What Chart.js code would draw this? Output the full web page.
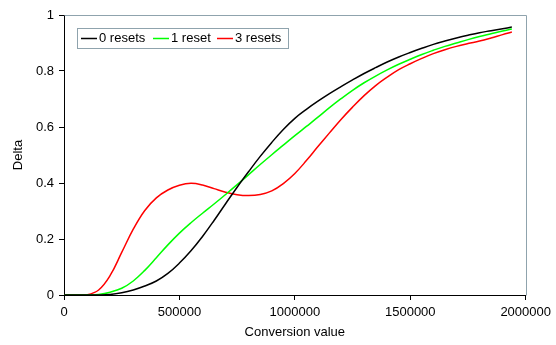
<!DOCTYPE html>
<html>
<head>
<meta charset="utf-8">
<script src="https://cdn.jsdelivr.net/npm/chart.js@4.4.0/dist/chart.umd.min.js"></script>
<style>
  html, body { margin: 0; padding: 0; background: #fff; }
  #wrap { width: 556px; height: 345px; }
</style>
</head>
<body>
<div id="wrap"><canvas id="chart" width="556" height="345"></canvas></div>
<script>
// data
const conversion = [0, 50000, 100000, 150000, 200000, 250000, 300000, 350000, 400000, 450000,
  500000, 550000, 600000, 650000, 700000, 750000, 800000, 850000, 900000, 950000,
  1000000, 1050000, 1100000, 1150000, 1200000, 1250000, 1300000, 1350000, 1400000, 1450000,
  1500000, 1550000, 1600000, 1650000, 1700000, 1750000, 1800000, 1850000, 1900000, 1940000];
const resets0 = [0, 0, 0, 0, 0.002, 0.008, 0.018, 0.032, 0.05, 0.077,
  0.114, 0.158, 0.209, 0.266, 0.326, 0.385, 0.441, 0.495, 0.545, 0.591,
  0.631, 0.663, 0.692, 0.719, 0.744, 0.768, 0.791, 0.812, 0.832, 0.85,
  0.866, 0.881, 0.895, 0.907, 0.918, 0.928, 0.937, 0.944, 0.951, 0.957];
const resets1 = [0, 0, 0, 0.002, 0.01, 0.024, 0.05, 0.088, 0.133, 0.179,
  0.221, 0.258, 0.292, 0.325, 0.359, 0.394, 0.43, 0.466, 0.501, 0.535,
  0.569, 0.602, 0.635, 0.669, 0.701, 0.731, 0.758, 0.782, 0.804, 0.824,
  0.842, 0.859, 0.874, 0.888, 0.9, 0.912, 0.923, 0.933, 0.943, 0.95];
const resets3 = [0, 0, 0.001, 0.018, 0.07, 0.152, 0.235, 0.302, 0.347, 0.375,
  0.392, 0.399, 0.393, 0.38, 0.367, 0.358, 0.355, 0.359, 0.372, 0.398,
  0.434, 0.48, 0.53, 0.579, 0.627, 0.671, 0.712, 0.748, 0.778, 0.805,
  0.826, 0.845, 0.862, 0.876, 0.888, 0.898, 0.907, 0.918, 0.93, 0.939];
const seriesNames = ['0 resets', '1 reset', '3 resets'];
const seriesColors = ['#000000', '#00ff00', '#ff0000'];

const FONT = "'Liberation Sans', Arial, sans-serif";
Chart.defaults.font.family = FONT;
Chart.defaults.font.size = 13;
Chart.defaults.color = '#000';

function pts(ys) {
  return conversion.map((x, i) => ({ x: x, y: ys[i] }));
}

// grey frame on top/right plus the boxed legend inside the plot
const framePlugin = {
  id: 'frame',
  afterDraw(chart) {
    const ctx = chart.ctx;
    const a = chart.chartArea;
    ctx.save();
    ctx.strokeStyle = '#8fa3ad';
    ctx.lineWidth = 1;
    ctx.beginPath();
    ctx.moveTo(Math.round(a.left) + 0.5, Math.round(a.top) + 0.5);
    ctx.lineTo(Math.round(a.right) + 0.5, Math.round(a.top) + 0.5);
    ctx.lineTo(Math.round(a.right) + 0.5, Math.round(a.bottom) + 0.5);
    ctx.stroke();

    // legend
    const lx = 77, ly = 28, lw = 211, lh = 20;
    ctx.fillStyle = '#fff';
    ctx.fillRect(lx, ly, lw, lh);
    ctx.strokeRect(lx + 0.5, ly + 0.5, lw, lh);
    ctx.font = '13px ' + FONT;
    ctx.textBaseline = 'middle';
    const starts = [81, 153, 217];
    chart.data.datasets.forEach((ds, i) => {
      const x = starts[i];
      const y = ly + lh / 2 + 0.5;
      ctx.strokeStyle = ds.borderColor;
      ctx.lineWidth = 1.5;
      ctx.beginPath();
      ctx.moveTo(x, y);
      ctx.lineTo(x + 16, y);
      ctx.stroke();
      ctx.fillStyle = '#000';
      ctx.fillText(ds.label, x + 18, y);
    });
    ctx.restore();
  }
};

const data = {
  datasets: [0, 1, 2].map(i => ({
    label: seriesNames[i],
    data: pts([resets0, resets1, resets3][i]),
    borderColor: seriesColors[i],
    backgroundColor: seriesColors[i],
    borderWidth: 1.5,
    pointRadius: 0,
    tension: 0.4,
    fill: false
  }))
};

const options = {
  responsive: false,
  animation: false,
  layout: { padding: { top: 15, right: 27, left: 0, bottom: 0 } },
  plugins: {
    legend: { display: false },
    tooltip: { enabled: false }
  },
  scales: {
    x: {
      type: 'linear',
      min: 0,
      max: 2000000,
      afterFit(scale) { scale.height = 50; },
      border: { display: true, color: '#000', width: 1 },
      grid: { display: true, drawOnChartArea: false, drawTicks: true, tickLength: 5, color: '#000' },
      ticks: { stepSize: 500000, maxRotation: 0, padding: 5, callback: v => String(v) },
      title: { display: true, text: 'Conversion value', padding: { top: 2, bottom: 5 } }
    },
    y: {
      min: 0,
      max: 1,
      afterFit(scale) { scale.width = 64; },
      border: { display: true, color: '#000', width: 1 },
      grid: { display: true, drawOnChartArea: false, drawTicks: true, tickLength: 5, color: '#000' },
      ticks: { stepSize: 0.2, padding: 5, callback: v => String(Math.round(v * 10) / 10) },
      title: { display: true, text: 'Delta', padding: { top: 11, bottom: 4 } }
    }
  }
};

new Chart(document.getElementById('chart'), {
  type: 'line',
  data: data,
  options: options,
  plugins: [framePlugin]
});
</script>
</body>
</html>
